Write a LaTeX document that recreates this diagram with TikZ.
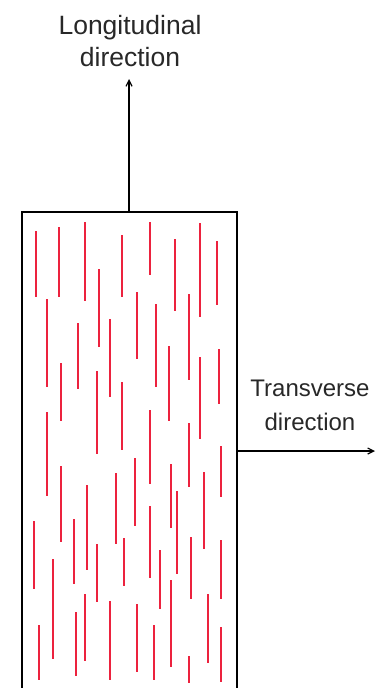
\documentclass[tikz,border=0pt]{standalone}
\usepackage{fontspec}
\setmainfont{Liberation Sans}
\definecolor{FibreRed}{RGB}{236,34,62}
\definecolor{LabelGrey}{RGB}{40,40,40}
\usetikzlibrary{arrows.meta,positioning}

\begin{document}
\begin{tikzpicture}[x=1pt,y=-1pt,
  lbl/.style={align=center,text=LabelGrey,inner sep=0pt},
  dirarrow/.style={-{Straight Barb[length=6pt,width=6pt]},line width=1.2pt},
  fibre/.style={FibreRed,line width=1.8pt}]
  \useasboundingbox (0,0) rectangle (385,688);
  % specimen outline, cut off at the bottom
  \coordinate (BL) at (22,700);
  \coordinate (TL) at (22,212);
  \coordinate (TR) at (237,212);
  \coordinate (BR) at (237,700);
  \draw[line width=1.5pt] (BL)--(TL)--(TR)--(BR);
  % aligned fibres
  \foreach \x/\ya/\yb in {36/231/297, 58.7/227/297, 85.3/222/301,
      121.7/235/297, 150.3/222/275, 175.3/239/311, 200/223/317,
      217.3/241/305, 98.7/269/347, 47.3/299/387, 136.7/292/359,
      156/304/387, 188.7/294/380, 78/323/389, 110.3/319/397,
      169.3/346/421, 60.7/363/421, 200/357/439, 219.3/349/404,
      97/371/454, 121.7/382/450, 47.3/412/496, 150.3/410/484,
      188.7/423/487, 221/446/497, 60.7/466/542, 135/458/526,
      171.3/464/528, 204/472/549, 177/491/574, 116/473/544,
      87.3/485/570, 150.3/506/578, 33.7/521/589, 74/519/584,
      123.7/538/586, 97/544/602, 160/550/609, 190.7/537/599,
      221/540/599, 52.7/559/659, 85.3/594/661, 171.3/580/667,
      207.7/594/663, 76/612/676, 110.3/601/680, 136.7/604/672,
      154.3/625/680, 39.3/625/680, 188.7/656/683, 221/627/682}
    \draw[fibre] (\x,\ya)--(\x,\yb);
  % directions
  \coordinate (LongBase) at (129,212);
  \coordinate (LongTip) at (129,79);
  \draw[dirarrow] (LongBase)--(LongTip);
  \node[lbl,font=\fontsize{26.5}{32}\selectfont] (LongLbl) at (130,41)
       {Longitudinal\\direction};
  \coordinate (TransBase) at (237,451);
  \coordinate (TransTip) at (375,451);
  \draw[dirarrow] (TransBase)--(TransTip);
  \node[lbl,font=\fontsize{24}{34}\selectfont] (TransLbl) at (310,405)
       {Transverse\\direction};
\end{tikzpicture}
\end{document}
